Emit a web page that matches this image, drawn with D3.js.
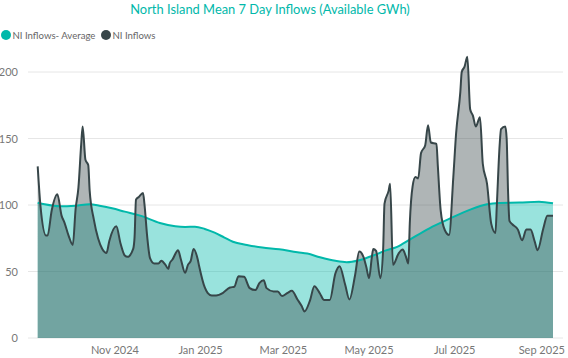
<!DOCTYPE html>
<html><head><meta charset="utf-8">
<script src="https://cdn.jsdelivr.net/npm/d3@7"></script>
<style>body{margin:0;background:#fff;}svg{display:block;font-family:Lato,"Open Sans",sans-serif;}</style>
</head><body><svg id="c" width="568" height="358"></svg>
<script>
const title = "North Island Mean 7 Day Inflows (Available GWh)";
const seriesNames = ["NI Inflows- Average", "NI Inflows"];
const yTicks = [0, 50, 100, 150, 200];
const xTickDates = ["2024-11-01","2025-01-01","2025-03-01","2025-05-01","2025-07-01","2025-09-01"];

const niDates = ["2024-09-07","2024-09-09","2024-09-13","2024-09-14","2024-09-17","2024-09-21","2024-09-24","2024-09-26","2024-09-29","2024-10-02","2024-10-04","2024-10-06","2024-10-08","2024-10-09","2024-10-11","2024-10-13","2024-10-14","2024-10-17","2024-10-20","2024-10-23","2024-10-26","2024-10-28","2024-11-02","2024-11-05","2024-11-08","2024-11-10","2024-11-14","2024-11-15","2024-11-16","2024-11-18","2024-11-21","2024-11-22","2024-11-24","2024-11-26","2024-11-29","2024-12-02","2024-12-04","2024-12-07","2024-12-09","2024-12-10","2024-12-12","2024-12-16","2024-12-18","2024-12-21","2024-12-23","2024-12-25","2024-12-27","2024-12-30","2024-12-31","2025-01-04","2025-01-06","2025-01-09","2025-01-12","2025-01-17","2025-01-22","2025-01-25","2025-01-28","2025-02-01","2025-02-05","2025-02-09","2025-02-12","2025-02-15","2025-02-17","2025-02-22","2025-02-25","2025-02-28","2025-03-04","2025-03-07","2025-03-11","2025-03-14","2025-03-16","2025-03-20","2025-03-23","2025-03-27","2025-03-30","2025-04-03","2025-04-07","2025-04-10","2025-04-14","2025-04-17","2025-04-21","2025-04-24","2025-04-27","2025-04-29","2025-05-01","2025-05-03","2025-05-04","2025-05-06","2025-05-09","2025-05-11","2025-05-12","2025-05-15","2025-05-16","2025-05-18","2025-05-22","2025-05-25","2025-05-27","2025-05-29","2025-05-30","2025-06-01","2025-06-03","2025-06-05","2025-06-07","2025-06-10","2025-06-12","2025-06-14","2025-06-18","2025-06-19","2025-06-21","2025-06-24","2025-06-27","2025-06-30","2025-07-02","2025-07-05","2025-07-06","2025-07-08","2025-07-10","2025-07-12","2025-07-14","2025-07-16","2025-07-19","2025-07-21","2025-07-24","2025-07-27","2025-07-30","2025-07-31","2025-08-02","2025-08-03","2025-08-06","2025-08-07","2025-08-08","2025-08-09","2025-08-11","2025-08-15","2025-08-18","2025-08-21","2025-08-24","2025-08-27","2025-08-29","2025-09-02","2025-09-05","2025-09-09"];
const niValues = [129,99,77,77,96,108,92,87,77,70,97,113,146,159,134,130,111,89,75,67,64,73,84,71,62,61,67,76,104,106,109,101,76,60,56,56,58,55,52,56,59,66,59,49,55,58,67,59,54,38,34,32,32,34,38,38.5,46.5,46,37.5,36,41.5,43.5,37.5,35,35,31.5,34,35.5,29,24,20,28.5,39,33.5,28.5,28.5,48.5,54,40,29,47,65,61,53.5,45,61,67,65.5,45,66,101,111,116,55,63.5,66.5,62,56,86,114,121,120,139,145,160,147,146,129,96,81,77.5,121,154,185,200,204,211.5,172,167,159,166,131,116,86,79,100,145,157,159,150,110,88,85.5,81.5,73.5,81.5,81.5,72.5,66,82,92,92];

const avgDates = ["2024-09-07","2024-09-12","2024-09-23","2024-10-04","2024-10-14","2024-10-21","2024-10-30","2024-11-08","2024-11-19","2024-12-03","2024-12-14","2024-12-21","2024-12-28","2025-01-04","2025-01-11","2025-01-18","2025-01-24","2025-02-03","2025-02-14","2025-02-26","2025-03-11","2025-03-18","2025-03-27","2025-04-07","2025-04-15","2025-04-24","2025-05-04","2025-05-12","2025-05-21","2025-05-30","2025-06-13","2025-06-27","2025-07-12","2025-07-24","2025-08-02","2025-08-16","2025-08-30","2025-09-09"];
const avgValues = [101.7,100.5,99,99.5,100.5,99.5,97.5,95,92,86.5,84,83.5,83.7,82,79.2,75.5,72.4,70,68,66.7,64.4,63.5,60.7,58,57,58.5,62,65.5,68.5,74,82.5,89.5,96.5,100.5,101.5,101.8,102.5,101.3];

const parse = d3.timeParse("%Y-%m-%d");
const ni = niDates.map((d,i)=>({date:parse(d), v:niValues[i]}));
const avg = avgDates.map((d,i)=>({date:parse(d), v:avgValues[i]}));

const svg = d3.select("#c");
const teal = "#01B8AA", dark = "#374649";

const x = d3.scaleTime().domain([parse("2024-09-07"), parse("2025-09-09")]).range([37.7, 553]);
const y = d3.scaleLinear().domain([0, 200]).range([338, 72]);

function fit(sel, target){
  const w = sel.node().getComputedTextLength();
  const fs = +sel.attr("font-size");
  sel.attr("font-size", fs*target/w);
}

// title
const tt = svg.append("text").attr("x", 270).attr("y", 14).attr("text-anchor","middle")
  .attr("fill", teal).attr("font-size", 15).text(title);
fit(tt, 280);

// legend
const lg = svg.append("g");
lg.append("circle").attr("cx",6).attr("cy",35).attr("r",5).attr("fill",teal);
const t1 = lg.append("text").attr("x",12.5).attr("y",39).attr("font-size",11).attr("fill","#666").text(seriesNames[0]);
fit(t1, 83);
lg.append("circle").attr("cx",106).attr("cy",35).attr("r",5).attr("fill",dark);
const t2 = lg.append("text").attr("x",112.5).attr("y",39).attr("font-size",11).attr("fill","#666").text(seriesNames[1]);
fit(t2, 43);

// grid + y labels
const yAxis = svg.append("g");
yTicks.forEach(t=>{
  yAxis.append("line").attr("x1",28).attr("x2",563).attr("y1",y(t)).attr("y2",y(t))
    .attr("stroke","#e6e6e6").attr("stroke-width",1);
  yAxis.append("text").attr("x",18).attr("y",y(t)+4).attr("text-anchor","end")
    .attr("font-size",11).attr("fill","#777").text(t);
});

// x labels
const fmt = d3.timeFormat("%b %Y");
xTickDates.forEach(d=>{
  const dt = parse(d);
  svg.append("text").attr("x", Math.min(x(dt), 543)).attr("y", 354).attr("text-anchor","middle")
    .attr("font-size",11).attr("fill","#777").text(fmt(dt));
});

const curve = d3.curveMonotoneX;
const area = d3.area().x(d=>x(d.date)).y0(y(0)).y1(d=>y(d.v)).curve(curve);
const line = d3.line().x(d=>x(d.date)).y(d=>y(d.v)).curve(curve);

svg.append("path").datum(avg).attr("d", area).attr("fill", teal).attr("fill-opacity", 0.4);
svg.append("path").datum(ni).attr("d", area).attr("fill", dark).attr("fill-opacity", 0.4);
svg.append("path").datum(avg).attr("d", line).attr("fill","none").attr("stroke", teal).attr("stroke-width", 2);
svg.append("path").datum(ni).attr("d", line).attr("fill","none").attr("stroke", dark).attr("stroke-width", 2);
</script></body></html>
